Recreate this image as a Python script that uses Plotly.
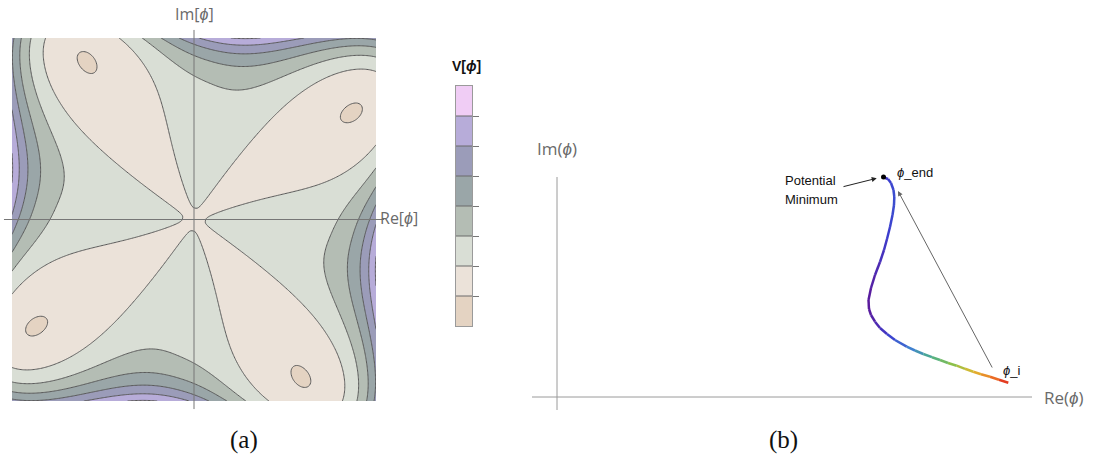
import numpy as np
import plotly.graph_objects as go
from plotly.colors import sample_colorscale

W, H = 1103, 464


def fx(px):
    return px / W


def fy(py):
    return 1 - py / H


# ---------------- (a) potential contour ----------------
# V = -|phi|^2 P(a) + w (|phi| q(a))^8 + g |phi|^3 sin(4a),  a = arg(phi) - theta0
#   P(a) = 2 ((1 + cos 4a) / 2)^1.5 - 1   (petal term)
#   q(a) = 1 - kappa cos 4a                 (square-ish outer wall)
theta0_deg = 38.96
petal_power = 1.5
wall_coef = 0.876
wall_kappa = 0.1614
wall_power = 8
twist_coef = 0.65

level_step = 0.885
level_base = 0.004          # contour just above V(0)
level_count = 7
levels = [level_base + (i - 1) * level_step for i in range(level_count)]

band_colors = ["#e4d3c2", "#ebe2d9", "#d9ded5", "#b4bdb4",
               "#9aa6a8", "#9b9cb9", "#b7acd9", "#f0cdf5"]

grid = np.linspace(-1, 1, 280)
X, Y = np.meshgrid(grid, grid)
R = np.hypot(X, Y)
A = np.arctan2(Y, X) - np.radians(theta0_deg)
P = 2 * ((1 + np.cos(4 * A)) / 2) ** petal_power - 1
Q = 1 - wall_kappa * np.cos(4 * A)
V = -R ** 2 * P + wall_coef * (R * Q) ** wall_power + twist_coef * R ** 3 * np.sin(4 * A)

nb = len(band_colors)
band_scale = []
for i, col in enumerate(band_colors):
    band_scale.append([i / nb, col])
    band_scale.append([(i + 1) / nb, col])

# ---------------- (b) field trajectory ----------------
traj_re = [4.513, 4.42, 4.33, 4.24, 4.163, 4.08, 3.997, 3.91, 3.83, 3.75,
           3.663, 3.58, 3.497, 3.38, 3.30, 3.23, 3.18, 3.14, 3.12, 3.115,
           3.14, 3.18, 3.23, 3.27, 3.30, 3.33, 3.355, 3.37, 3.373, 3.365,
           3.34, 3.31, 3.27]
traj_im = [0.143, 0.172, 0.203, 0.227, 0.253, 0.282, 0.313, 0.34, 0.37, 0.398,
           0.43, 0.465, 0.503, 0.57, 0.63, 0.69, 0.753, 0.82, 0.88, 0.97,
           1.09, 1.22, 1.35, 1.47, 1.58, 1.70, 1.82, 1.92, 2.00, 2.07,
           2.14, 2.18, 2.195]
phi_end = (3.265, 2.20)

rainbow = [[0.0, "#5a1a9c"], [0.15, "#3b3fcf"], [0.3, "#3f7fd0"],
           [0.45, "#4caf8a"], [0.6, "#8cc04a"], [0.75, "#e0b830"],
           [0.88, "#ec7a25"], [1.0, "#e0241f"]]

fig = go.Figure()

fig.add_trace(go.Contour(
    x=grid, y=grid, z=V,
    contours=dict(start=levels[0], end=levels[-1], size=level_step,
                  coloring="fill", showlines=True),
    line=dict(color="#5a5a5a", width=1),
    colorscale=band_scale, showscale=False,
    hoverinfo="skip",
    xaxis="x", yaxis="y",
))

axis_gray = "#767676"
ext = 1.045
fig.add_trace(go.Scatter(x=[-ext, ext], y=[0, 0], mode="lines",
                         line=dict(color=axis_gray, width=1), hoverinfo="skip",
                         xaxis="x", yaxis="y"))
fig.add_trace(go.Scatter(x=[0, 0], y=[-ext, ext], mode="lines",
                         line=dict(color=axis_gray, width=1), hoverinfo="skip",
                         xaxis="x", yaxis="y"))

# legend bar for the contour bands
band_index = list(range(nb))
fig.add_trace(go.Heatmap(z=[[k] for k in band_index], x=[0], y=band_index,
                         colorscale=band_scale, zmin=0, zmax=nb - 1,
                         showscale=False, hoverinfo="skip",
                         xaxis="x3", yaxis="y3"))
for k in band_index[:-1]:
    fig.add_trace(go.Scatter(x=[-0.5, 0.5], y=[k + 0.5, k + 0.5], mode="lines",
                             line=dict(color="#6a6a6a", width=1), hoverinfo="skip",
                             xaxis="x3", yaxis="y3"))

# trajectory axes
fig.add_trace(go.Scatter(x=[-0.25, 4.75], y=[0, 0], mode="lines",
                         line=dict(color="#9a9a9a", width=1), hoverinfo="skip",
                         xaxis="x2", yaxis="y2"))
fig.add_trace(go.Scatter(x=[0, 0], y=[-0.13, 2.20], mode="lines",
                         line=dict(color="#9a9a9a", width=1), hoverinfo="skip",
                         xaxis="x2", yaxis="y2"))

re_lo, re_hi = min(traj_re), max(traj_re)
for i in range(len(traj_re) - 1):
    mid = 0.5 * (traj_re[i] + traj_re[i + 1])
    col = sample_colorscale(rainbow, [(mid - re_lo) / (re_hi - re_lo)])[0]
    fig.add_trace(go.Scatter(x=traj_re[i:i + 2], y=traj_im[i:i + 2], mode="lines",
                             line=dict(color=col, width=2.5), hoverinfo="skip",
                             xaxis="x2", yaxis="y2"))

fig.add_trace(go.Scatter(x=[phi_end[0]], y=[phi_end[1]], mode="markers",
                         marker=dict(color="black", size=5), hoverinfo="skip",
                         xaxis="x2", yaxis="y2"))

label_font = dict(family="Open Sans, Liberation Sans, sans-serif", size=16, color="#6a6a6a")
axis_font_b = dict(family="Open Sans, Liberation Sans, sans-serif", size=17, color="#6a6a6a")
small_font = dict(family="Liberation Sans, Arial, sans-serif", size=13, color="#111111")
cap_font = dict(family="Liberation Serif, DejaVu Serif, serif", size=25, color="#111111")

annotations = [
    dict(text="Im[<i>ϕ</i>]", x=fx(194), y=fy(14), xref="paper", yref="paper",
         xanchor="center", yanchor="middle", showarrow=False, font=label_font),
    dict(text="Re[<i>ϕ</i>]", x=fx(378), y=fy(218), xref="paper", yref="paper",
         xanchor="left", yanchor="middle", showarrow=False, font=label_font),
    dict(text="<b>V[<i>ϕ</i>]</b>", x=fx(466), y=fy(66), xref="paper", yref="paper",
         xanchor="center", yanchor="middle", showarrow=False,
         font=dict(family="Liberation Sans, Arial, sans-serif", size=14, color="#111111")),
    dict(text="Im(<i>ϕ</i>)", x=fx(557), y=fy(148), xref="paper", yref="paper",
         xanchor="center", yanchor="middle", showarrow=False, font=axis_font_b),
    dict(text="Re(<i>ϕ</i>)", x=fx(1042), y=fy(397), xref="paper", yref="paper",
         xanchor="left", yanchor="middle", showarrow=False, font=axis_font_b),
    dict(text="(a)", x=fx(244), y=fy(440), xref="paper", yref="paper",
         xanchor="center", yanchor="middle", showarrow=False, font=cap_font),
    dict(text="(b)", x=fx(783), y=fy(440), xref="paper", yref="paper",
         xanchor="center", yanchor="middle", showarrow=False, font=cap_font),
    dict(text="<i>ϕ</i>_end", x=3.38, y=2.245, xref="x2", yref="y2",
         xanchor="left", yanchor="middle", showarrow=False, font=small_font),
    dict(text="<i>ϕ</i>_i", x=4.44, y=0.27, xref="x2", yref="y2",
         xanchor="left", yanchor="middle", showarrow=False, font=small_font),
    dict(text="Potential", x=2.255, y=2.17, xref="x2", yref="y2",
         xanchor="left", yanchor="middle", showarrow=False, font=small_font),
    dict(text="Minimum", x=2.255, y=1.98, xref="x2", yref="y2",
         xanchor="left", yanchor="middle", showarrow=False, font=small_font),
    dict(text="", x=3.197, y=2.187, ax=2.85, ay=2.10, xref="x2", yref="y2",
         axref="x2", ayref="y2", showarrow=True, arrowhead=2, arrowsize=1,
         arrowwidth=1, arrowcolor="#222222"),
    dict(text="", x=3.41, y=2.06, ax=4.36, ay=0.28, xref="x2", yref="y2",
         axref="x2", ayref="y2", showarrow=True, arrowhead=2, arrowsize=1,
         arrowwidth=1, arrowcolor="#666666"),
]

fig.update_layout(
    width=W, height=H,
    margin=dict(l=0, r=0, t=0, b=0),
    paper_bgcolor="white", plot_bgcolor="white",
    showlegend=False,
    xaxis=dict(domain=[fx(194 - 190.2), fx(194 + 190.2)], range=[-ext, ext],
               visible=False, fixedrange=True),
    yaxis=dict(domain=[fy(219.5 + 189.7), fy(219.5 - 189.7)], range=[-ext, ext],
               visible=False, fixedrange=True),
    xaxis2=dict(domain=[fx(520), fx(1040)], range=[-0.37, 4.83],
                visible=False, anchor="y2"),
    yaxis2=dict(domain=[fy(420), fy(160)], range=[-0.23, 2.37],
                visible=False, anchor="x2"),
    xaxis3=dict(domain=[fx(456), fx(472)], range=[-0.5, 0.5], anchor="y3",
                showgrid=False, zeroline=False, showticklabels=False, ticks="",
                showline=True, mirror=True, linecolor="#9a9a9a", linewidth=1),
    yaxis3=dict(domain=[fy(326), fy(86)], range=[-0.5, nb - 0.5], anchor="x3",
                side="right", showgrid=False, zeroline=False, showticklabels=False,
                tickvals=[k + 0.5 for k in band_index[:-1]], ticks="outside",
                ticklen=6, tickwidth=1, tickcolor="#777777",
                showline=True, mirror=True, linecolor="#9a9a9a", linewidth=1),
    annotations=annotations,
)

fig.write_html("out.html")
